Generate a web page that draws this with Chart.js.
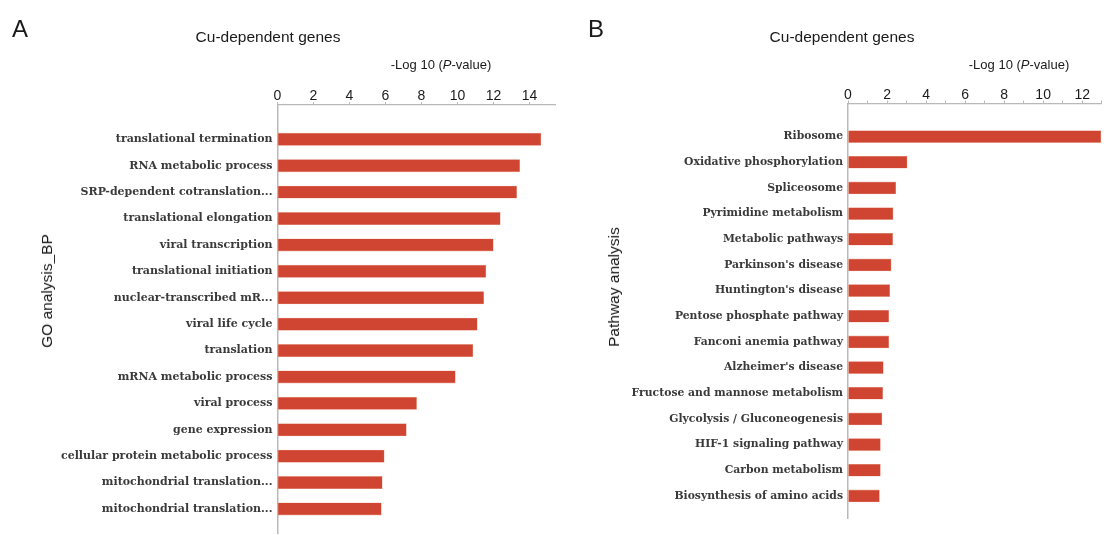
<!DOCTYPE html>
<html>
<head>
<meta charset="utf-8">
<script src="https://cdn.jsdelivr.net/npm/chart.js@4/dist/chart.umd.min.js"></script>
<style>
  html, body { margin: 0; padding: 0; background: #fff; }
  body { width: 1104px; height: 535px; position: relative; overflow: hidden; font-family: "Liberation Sans", Arial, sans-serif; color: #1a1a1a; }
  .cv { position: absolute; top: 0; }
  .txt { position: absolute; white-space: nowrap; transform: translate(-50%, -50%); }
  .panel { font-size: 24px; }
  .title { font-size: 15.5px; }
  .xlab { font-size: 13px; }
  .ylab { font-size: 15.5px; transform: translate(-50%, -50%) rotate(-90deg); }
</style>
</head>
<body>
<div class="cv" style="left:0;width:560px;height:535px;"><canvas id="c1" width="560" height="535"></canvas></div>
<div class="cv" style="left:560px;width:544px;height:535px;"><canvas id="c2" width="544" height="535"></canvas></div>

<div class="txt panel" style="left:20px;top:29px;">A</div>
<div class="txt panel" style="left:596px;top:29px;">B</div>
<div class="txt title" style="left:268px;top:37px;">Cu-dependent genes</div>
<div class="txt title" style="left:842px;top:37px;">Cu-dependent genes</div>
<div class="txt xlab" style="left:441px;top:64px;">-Log 10 (<i>P</i>-value)</div>
<div class="txt xlab" style="left:1019px;top:64px;">-Log 10 (<i>P</i>-value)</div>
<div class="txt ylab" style="left:47px;top:291px;">GO analysis_BP</div>
<div class="txt ylab" style="left:614px;top:287px;">Pathway analysis</div>

<script>
// ---- Data ----
const goTerms = [
  "translational termination",
  "RNA metabolic process",
  "SRP-dependent cotranslation...",
  "translational elongation",
  "viral transcription",
  "translational initiation",
  "nuclear-transcribed mR...",
  "viral life cycle",
  "translation",
  "mRNA metabolic process",
  "viral process",
  "gene expression",
  "cellular protein metabolic process",
  "mitochondrial translation...",
  "mitochondrial translation..."
];
const goValues = [14.64, 13.46, 13.29, 12.38, 11.99, 11.58, 11.46, 11.10, 10.86, 9.88, 7.73, 7.16, 5.93, 5.82, 5.77];

const pathways = [
  "Ribosome",
  "Oxidative phosphorylation",
  "Spliceosome",
  "Pyrimidine metabolism",
  "Metabolic pathways",
  "Parkinson's disease",
  "Huntington's disease",
  "Pentose phosphate pathway",
  "Fanconi anemia pathway",
  "Alzheimer's disease",
  "Fructose and mannose metabolism",
  "Glycolysis / Gluconeogenesis",
  "HIF-1 signaling pathway",
  "Carbon metabolism",
  "Biosynthesis of amino acids"
];
const pathwayValues = [12.96, 3.03, 2.45, 2.31, 2.29, 2.21, 2.14, 2.09, 2.09, 1.81, 1.78, 1.74, 1.66, 1.66, 1.61];

const goTickLabels = ["0", "2", "4", "6", "8", "10", "12", "14"];
const pwTickLabels = ["0", "2", "4", "6", "8", "10", "12"];

// ---- Styling ----
const BAR = "#cf4531";
const AXIS = "#b9b9b9";
const TICK_FONT = { family: "'Liberation Sans', Arial, sans-serif", size: 14 };

function makeChart(id, cats, vals, tickLabels, opt) {
  const data = vals.map((v, i) => ({ x: v, y: i }));
  return new Chart(document.getElementById(id), {
    type: 'bar',
    data: {
      datasets: [{
        data: data,
        backgroundColor: BAR,
        borderColor: "#e9a494",
        borderWidth: 0.6,
        borderSkipped: false,
        barThickness: opt.barThickness
      }]
    },
    options: {
      indexAxis: 'y',
      responsive: false,
      animation: false,
      events: [],
      layout: { padding: { left: 0, right: opt.padRight, top: opt.padTop, bottom: opt.padBottom } },
      plugins: { legend: { display: false }, tooltip: { enabled: false } },
      scales: {
        x: {
          type: 'linear',
          position: 'top',
          min: 0,
          max: opt.xMax,
          offset: false,
          grid: { display: true, drawOnChartArea: false, drawTicks: true, tickLength: 3, color: AXIS },
          border: { display: true, color: AXIS, width: 1.3 },
          ticks: {
            stepSize: opt.step,
            includeBounds: false,
            padding: -3,
            color: "#1a1a1a",
            font: TICK_FONT,
            maxRotation: 0,
            autoSkip: false,
            callback: (v) => {
              const idx = tickLabels.indexOf(String(v));
              return idx >= 0 ? tickLabels[idx] : '';
            }
          },
          afterFit: (s) => { s.height = opt.xHeight; }
        },
        y: {
          type: 'linear',
          reverse: true,
          offset: false,
          min: opt.yMin,
          max: opt.yMax,
          grid: { display: true, offset: false, drawOnChartArea: false, drawTicks: false },
          border: { display: true, color: AXIS, width: 1.5 },
          afterBuildTicks: (s) => { s.ticks = cats.map((c, i) => ({ value: i })); },
          ticks: {
            autoSkip: false,
            padding: 5,
            color: "#3a3a3a",
            font: { family: "'DejaVu Serif', serif", weight: "bold", size: opt.labelSize },
            callback: (v) => cats[v]
          },
          afterFit: (s) => { s.width = opt.yWidth; s.paddingTop = 0; s.paddingBottom = 0; }
        }
      }
    }
  });
}

makeChart('c1', goTerms, goValues, goTickLabels, {
  xMax: 15.42, step: 2, yMin: -1.3, yMax: 14.91, labelSize: 11,
  yWidth: 277.5, padRight: 5, padTop: 85, padBottom: 2, xHeight: 20, barThickness: 12.3
});
makeChart('c2', pathways, pathwayValues, pwTickLabels, {
  xMax: 13.0, step: 1, yMin: -1.29, yMax: 14.86, labelSize: 10.8,
  yWidth: 288, padRight: 2.3, padTop: 83.5, padBottom: 17, xHeight: 20, barThickness: 12
});
</script>
</body>
</html>
